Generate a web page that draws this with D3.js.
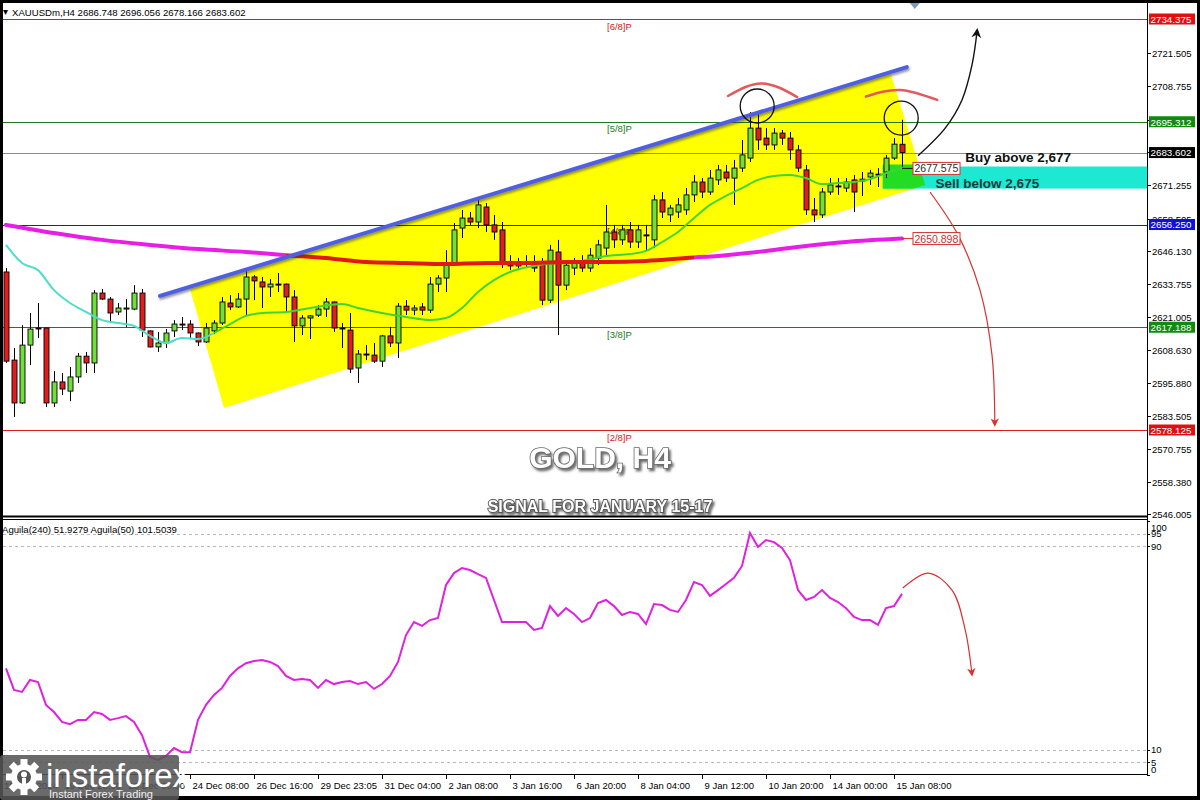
<!DOCTYPE html>
<html><head><meta charset="utf-8">
<script src="https://cdn.jsdelivr.net/npm/d3@7"></script>
<style>body{margin:0;background:#000;} svg{display:block}</style>
</head><body>
<svg id="c" width="1200" height="800"></svg>
<script>
// ---------- DATA ----------
const symbolHeader = "XAUUSDm,H4  2686.748 2696.056 2678.166 2683.602";
const indicatorHeader = "Aguila(240) 51.9279  Aguila(50) 101.5039";

const open = [2638.2,2604.7,2588.4,2610.4,2616.9,2616.9,2588.4,2596.4,2592.9,2598.3,
2606.2,2603.6,2630.2,2627.9,2623.0,2624.1,2624.1,2630.2,2615.8,2609.7,
2611.2,2615.8,2618.4,2618.4,2615.0,2611.6,2615.8,2618.8,2626.4,2624.9,
2627.9,2636.3,2634.4,2632.5,2633.6,2633.6,2628.7,2617.7,2620.7,2621.8,
2624.1,2626.8,2616.9,2616.1,2601.7,2607.0,2606.6,2604.3,2613.9,2611.2,
2625.2,2623.7,2624.9,2623.7,2633.6,2635.9,2641.6,2654.9,2658.7,2657.2,
2662.9,2656.1,2654.2,2642.0,2640.5,2642.0,2642.0,2640.8,2627.5,2645.8,
2633.2,2639.7,2642.0,2639.7,2643.5,2647.3,2653.4,2650.4,2654.2,2649.6,
2652.3,2650.4,2665.6,2659.9,2661.0,2661.8,2667.5,2672.4,2668.6,2673.2,
2676.2,2673.9,2677.7,2681.5,2692.9,2689.1,2686.5,2691.0,2689.1,2684.6,
2677.0,2661.8,2659.9,2668.6,2670.9,2670.1,2673.2,2672.8,2674.3,2675.4,
2676.2,2681.5,2686.748];
const high = [2639.7,2609.3,2618.0,2622.6,2626.4,2617.0,2600.5,2599.8,2602.1,2607.4,
2607.8,2631.3,2631.7,2628.7,2626.4,2627.9,2633.2,2631.7,2616.0,2615.4,
2616.5,2619.9,2621.1,2619.9,2615.2,2618.8,2619.9,2628.7,2629.4,2630.2,
2638.9,2637.0,2636.3,2635.5,2637.8,2633.8,2631.3,2621.8,2621.8,2625.6,
2628.3,2627.0,2618.8,2622.6,2608.5,2610.4,2611.2,2614.2,2617.3,2626.4,
2627.5,2625.6,2626.4,2636.3,2637.0,2646.5,2656.8,2661.8,2661.0,2665.6,
2664.4,2659.9,2657.2,2644.6,2643.5,2644.6,2644.6,2643.5,2648.5,2650.4,
2642.0,2643.5,2644.6,2647.3,2650.4,2663.7,2656.1,2656.1,2657.2,2656.1,
2656.1,2667.5,2668.6,2663.7,2666.3,2670.1,2675.1,2673.9,2677.0,2678.9,
2678.9,2680.8,2688.4,2699.0,2699.0,2692.9,2692.9,2692.2,2691.4,2686.5,
2678.9,2666.3,2670.1,2673.9,2673.9,2673.9,2675.1,2676.2,2677.0,2677.7,
2682.7,2689.1,2696.056];
const low = [2603.6,2583.1,2588.0,2602.8,2613.1,2586.9,2586.9,2591.4,2589.1,2596.0,
2599.8,2599.8,2627.5,2618.8,2621.8,2617.3,2623.7,2613.5,2609.5,2607.8,
2609.3,2613.5,2616.1,2612.7,2610.1,2611.2,2614.6,2618.0,2623.7,2624.5,
2621.8,2627.5,2624.5,2628.7,2630.6,2623.0,2611.6,2614.2,2612.7,2621.1,
2621.1,2615.4,2609.3,2599.8,2596.0,2604.7,2603.6,2602.1,2609.7,2605.5,
2621.8,2621.8,2621.8,2622.6,2630.6,2630.6,2641.6,2651.1,2656.1,2654.9,
2653.4,2650.4,2639.7,2638.9,2638.9,2639.7,2638.2,2625.6,2626.4,2614.2,
2631.3,2637.0,2638.2,2638.2,2640.8,2644.6,2647.3,2648.5,2647.3,2647.3,
2646.5,2647.3,2658.7,2657.2,2658.7,2659.9,2664.8,2666.3,2667.5,2671.3,
2672.4,2663.7,2676.2,2680.0,2684.6,2684.6,2684.6,2686.5,2680.8,2676.2,
2659.9,2657.2,2658.7,2667.5,2667.5,2668.6,2661.0,2667.1,2671.3,2670.5,
2673.9,2680.8,2678.166];
const close = [2604.3,2588.4,2610.4,2616.5,2616.7,2588.4,2596.4,2593.7,2598.3,2606.2,
2603.6,2630.2,2627.9,2622.6,2624.5,2624.5,2630.2,2616.1,2609.7,2611.2,
2615.0,2618.4,2618.2,2615.0,2611.6,2616.9,2618.8,2626.8,2624.9,2627.9,
2636.3,2634.8,2632.5,2633.6,2633.4,2628.7,2617.7,2620.7,2621.5,2624.1,
2626.8,2616.9,2616.7,2601.3,2607.0,2606.8,2604.3,2613.9,2611.2,2625.2,
2623.7,2624.5,2623.7,2633.6,2635.9,2641.6,2654.2,2658.7,2657.2,2663.7,
2656.1,2653.4,2642.0,2640.5,2642.0,2641.6,2639.7,2627.5,2646.5,2633.2,
2640.8,2642.0,2639.7,2644.6,2648.5,2653.4,2650.4,2654.2,2649.6,2654.2,
2652.1,2665.6,2661.0,2662.5,2663.7,2667.5,2672.4,2668.6,2673.9,2677.0,
2673.9,2677.7,2682.7,2692.9,2688.4,2686.5,2691.0,2689.1,2684.6,2677.7,
2661.8,2659.9,2668.6,2671.3,2670.7,2672.4,2668.6,2673.5,2675.8,2675.2,
2681.5,2686.8,2683.602];

// fast moving average (read at sampled bars)
const maFastBars = [0,2,4,6,8,10,12,14,16,18,20,22,24,26,28,30,32,35,38,42,44,47,50,53,55,57,59,61,63,66,69,72,75,78,80,82,84,86,88,90,92,94,96,98,100,102,104,106,108,110,112];
const maFastVals = [2648.5,2641.6,2638.9,2631.3,2626.4,2623.0,2619.9,2618.8,2617.7,2613.9,2611.2,2613.1,2612.7,2615.0,2618.4,2621.5,2622.6,2623.0,2624.5,2626.0,2624.5,2622.6,2621.1,2619.9,2620.7,2624.5,2630.6,2635.1,2638.2,2640.5,2641.6,2642.4,2644.3,2645.0,2646.2,2649.6,2653.4,2658.7,2663.7,2667.1,2670.1,2673.2,2674.7,2675.1,2673.9,2671.6,2672.0,2672.4,2673.5,2675.8,2677.7];
const maFastTurnBar = 25;
// slow moving average (read at sampled bars)
const maSlowBars = [0,6,12,18,24,30,35,40,45,50,55,60,65,70,75,80,85,90,95,100,105,112];
const maSlowVals = [2656.1,2653.0,2650.4,2648.5,2646.9,2645.8,2644.6,2643.5,2642.0,2641.6,2641.2,2641.6,2641.6,2642.0,2642.0,2642.4,2643.5,2644.6,2646.2,2648.1,2649.6,2650.898];
const maSlowRedFrom = 35, maSlowRedTo = 86;

// oscillator
const aguila = [42,33.5,32.7,37.4,36.6,27.6,24.8,20.9,20,21.7,
21.7,24.8,24,21.7,22.4,23.2,20.9,15.7,7.1,5.9,
7.5,10.6,9,9,21.7,27.6,31.5,34.3,39,42,
44,44.9,45.3,44.5,42.9,39,37.4,37.8,37.4,34.3,
37.4,35.8,36.6,37,35.8,36.6,33.9,35.8,39,44.5,
55.1,60.2,58.7,61,61.8,74.8,79.5,81.5,80.7,79.1,
77.6,68.9,60.2,60.2,60.2,60.2,57.1,57.9,66.5,62.6,
65.7,63.4,60.2,61.8,67.7,68.9,66.5,63,64.2,63.4,
59.4,67.3,66.9,65,64.2,68.9,76,74.8,70.5,72.8,
75.2,77.6,82.3,95.3,89.8,92.5,91.7,89.4,84.6,72.8,
68.9,70.1,72.8,69.7,68.1,65.7,62.2,61,61,59.1,
65.7,66.5,71.3];
const oscLevels = [95,90,10,5];
const oscTickLabels = [100,95,90,10,5,0];

// price axis ticks
const priceTicks = [2721.505,2708.755,2696.005,2683.630,2671.255,2658.505,2646.130,2633.755,2621.005,2608.630,2595.880,2583.505,2570.755,2558.380,2546.005];
// Murrey levels
const levelPrices = [2734.375,2695.312,2656.250,2617.188,2578.125];
const levelNames  = ["[6/8]P","[5/8]P","[4/8]P","[3/8]P","[2/8]P"];
const levelColors = ["#dd1c1c","#1c7a1c","#1a1ac0","#1c7a1c","#dd1c1c"];
const levelTextColors = ["#d42020","#1c7a1c","#333333","#1c7a1c","#d42020"];
const lastPrice = 2683.602;

// time axis
const timeTickBars = [7,15,23,31,39,47,55,63,71,79,87,95,103,111];
const timeTickLabels = ["19 Dec 20:00","23 Dec 00:00","24 Dec 08:00","26 Dec 16:00","29 Dec 23:05","31 Dec 04:00","2 Jan 08:00","3 Jan 16:00","6 Jan 20:00","8 Jan 04:00","9 Jan 12:00","10 Jan 20:00","14 Jan 00:00","15 Jan 08:00"];
const firstTimeLabel = "18 Dec 2024";

// annotations (bar, price)
const channelBars   = [23, 110.6, 114.9, 27.25];
const channelPrices = [2631.7, 2713.5, 2671.3, 2586.5];
const trendBars = [19.25, 112.6];
const trendPrices = [2629.1, 2716.1];
const circleBars = [93.9, 111.9];
const circlePrices = [2701.3, 2696.7];
const arc1Bars = [90.25, 94.5, 98.9], arc1Prices = [2705.1, 2709.9, 2704.7];
const arc2Bars = [107.5, 111.75, 116.4], arc2Prices = [2704.9, 2707.4, 2703.6];
const upArrowBars = [114, 117.4, 119.5, 120.75, 121.4];
const upArrowPrices = [2682.4, 2692.9, 2703.6, 2716.9, 2730.2];
const downArrowBars = [115.5, 119, 121.75, 123.25, 123.6];
const downArrowPrices = [2668.6, 2652.3, 2631.3, 2606.6, 2580.0];
const oscArrowBars = [112.1, 115.25, 118.25, 119.9, 120.75];
const oscArrowVals = [73.6, 79.5, 72.8, 57.1, 39.4];
const zoneBarStart = 109.6;
const zoneTop = 2678.3, zoneBottom = 2669.9;
const buyText = "Buy above 2,677", sellText = "Sell below 2,675";
const buyPrice = 2680.0, sellPrice = 2671.0, textBar = 119.9, sellBar = 116.2;
const markerPrice1 = 2677.575, markerPrice2 = 2650.898;

// ---------- LAYOUT ----------
const W = 1200, H = 800;
const L = 3, R = 1147, mainT = 3, mainB = 516, indT = 519, indB = 774;
const svg = d3.select("#c");
const font = "'Liberation Sans', Arial, sans-serif";

const x = d3.scaleLinear().domain([0, 112]).range([6, 902]);
const y = d3.scaleLinear().domain([2578.125, 2734.375]).range([430, 19]);
const yi = d3.scaleLinear().domain([0, 100]).range([775, 521]);

const defs = svg.append("defs");
defs.append("clipPath").attr("id","mainClip").append("rect").attr("x",L).attr("y",mainT).attr("width",R-L).attr("height",mainB-mainT);
defs.append("clipPath").attr("id","indClip").append("rect").attr("x",L).attr("y",indT).attr("width",R-L).attr("height",indB-indT);
const chanPts = channelBars.map((b,i)=>[x(b), y(channelPrices[i])]);
defs.append("clipPath").attr("id","chanClip").append("polygon").attr("points", chanPts.map(p=>p.join(",")).join(" "));
function marker(id, color){
  defs.append("marker").attr("id",id).attr("viewBox","0 0 10 10").attr("refX",8).attr("refY",5)
    .attr("markerWidth",7).attr("markerHeight",7).attr("orient","auto")
    .append("path").attr("d","M0,0 L10,5 L0,10 L3,5 z").attr("fill",color);
}
marker("arrBlack","#111"); marker("arrRed","#d83030");
const f1 = defs.append("filter").attr("id","txtShadow").attr("x","-10%").attr("y","-30%").attr("width","130%").attr("height","170%");
f1.append("feDropShadow").attr("dx",2).attr("dy",2.5).attr("stdDeviation",1.2).attr("flood-color","#555").attr("flood-opacity",0.85);
const f2 = defs.append("filter").attr("id","lineShadow");
f2.append("feDropShadow").attr("dx",1).attr("dy",2).attr("stdDeviation",1).attr("flood-color","#333").attr("flood-opacity",0.5);

// background / frame
svg.append("rect").attr("width",W).attr("height",H).attr("fill","#000");
svg.append("rect").attr("x",L).attr("y",3).attr("width",1197-L).attr("height",793).attr("fill","#fff");

// ---------- MAIN PANEL ----------
const main = svg.append("g").attr("clip-path","url(#mainClip)");

// yellow channel
main.append("polygon").attr("points", chanPts.map(p=>p.join(",")).join(" ")).attr("fill","#ffff00");

// levels
levelPrices.forEach((p,i)=>{
  main.append("line").attr("x1",L).attr("x2",R).attr("y1",Math.round(y(p))+0.5).attr("y2",Math.round(y(p))+0.5)
    .attr("stroke",levelColors[i]).attr("stroke-width",1);
  main.append("text").attr("x",607).attr("y",y(p)+10.5).text(levelNames[i])
    .attr("font-family",font).attr("font-size",9.5).attr("fill",levelTextColors[i]);
});
main.append("line").attr("x1",L).attr("x2",R).attr("y1",Math.round(y(lastPrice))+0.5).attr("y2",Math.round(y(lastPrice))+0.5)
  .attr("stroke","#8a8a8a").attr("stroke-width",1);

// cyan/green zone
main.append("rect").attr("x",x(zoneBarStart)).attr("y",y(zoneTop)).attr("width",R-x(zoneBarStart)).attr("height",y(zoneBottom)-y(zoneTop)).attr("fill","#1de8d2");
main.append("rect").attr("clip-path","url(#chanClip)").attr("x",x(zoneBarStart)).attr("y",y(zoneTop)-2).attr("width",R-x(zoneBarStart)).attr("height",y(zoneBottom)-y(zoneTop)+2).attr("fill","#22dd22");

// candles
const idx = d3.range(open.length);
const cg = main.append("g");
idx.forEach(i=>{
  const cx = Math.round(x(i)) + 0.5;
  cg.append("line").attr("x1",cx).attr("x2",cx).attr("y1",y(high[i])).attr("y2",y(low[i])).attr("stroke","#000").attr("stroke-width",1);
  const top = y(Math.max(open[i],close[i])), bot = y(Math.min(open[i],close[i]));
  const up = close[i] >= open[i];
  cg.append("rect").attr("x",cx-2.5).attr("y",top).attr("width",5).attr("height",Math.max(1,bot-top))
    .attr("fill", up ? "#6fe03a" : "#e01e1e").attr("stroke","#000").attr("stroke-width",0.9);
});

// moving averages
const lineGen = d3.line().curve(d3.curveMonotoneX);
const fastPts = maFastBars.map((b,i)=>[x(b), y(maFastVals[i])]);
const turnIdx = maFastBars.findIndex(b=>b>=maFastTurnBar);
main.append("path").attr("d", lineGen(fastPts.slice(0, turnIdx+1))).attr("fill","none").attr("stroke","#4fdcc8").attr("stroke-width",2);
main.append("path").attr("d", lineGen(fastPts.slice(turnIdx))).attr("fill","none").attr("stroke","#3fd633").attr("stroke-width",2);
const slowPts = maSlowBars.map((b,i)=>[x(b), y(maSlowVals[i])]);
const curveFull = lineGen(slowPts);
function segClip(id, x0, x1){
  defs.append("clipPath").attr("id",id).append("rect").attr("x",x0).attr("y",0).attr("width",x1-x0).attr("height",H);
}
segClip("segA", 0, x(maSlowRedFrom)); segClip("segB", x(maSlowRedFrom), x(maSlowRedTo)); segClip("segC", x(maSlowRedTo), W);
[["segA","#e61ee6"],["segB","#e01818"],["segC","#e61ee6"]].forEach(([id,col])=>{
  main.append("g").attr("clip-path",`url(#${id})`).append("path").attr("d",curveFull).attr("fill","none").attr("stroke",col).attr("stroke-width",4).attr("stroke-linecap","round");
});

// trend line
main.append("line").attr("x1",x(trendBars[0])).attr("y1",y(trendPrices[0])).attr("x2",x(trendBars[1])).attr("y2",y(trendPrices[1]))
  .attr("stroke","#4f5fe0").attr("stroke-width",4).attr("stroke-linecap","round").attr("filter","url(#lineShadow)");

// circles & arcs
circleBars.forEach((b,i)=>{
  main.append("circle").attr("cx",x(b)).attr("cy",y(circlePrices[i])).attr("r",17).attr("fill","none").attr("stroke","#111").attr("stroke-width",1.3);
});
const arcLine = d3.line().curve(d3.curveNatural);
[[arc1Bars,arc1Prices],[arc2Bars,arc2Prices]].forEach(([bs,ps])=>{
  main.append("path").attr("d",arcLine(bs.map((b,i)=>[x(b),y(ps[i])]))).attr("fill","none").attr("stroke","#e45a5a").attr("stroke-width",2.5).attr("stroke-linecap","round");
});
// arrows
const arrLine = d3.line().curve(d3.curveCatmullRom);
main.append("path").attr("d",arrLine(upArrowBars.map((b,i)=>[x(b),y(upArrowPrices[i])]))).attr("fill","none").attr("stroke","#111").attr("stroke-width",1.4).attr("marker-end","url(#arrBlack)");
main.append("path").attr("d",arrLine(downArrowBars.map((b,i)=>[x(b),y(downArrowPrices[i])]))).attr("fill","none").attr("stroke","#d83030").attr("stroke-width",1.2).attr("marker-end","url(#arrRed)");

// price marker labels
function priceMarker(p, textColor){
  const yy = y(p);
  main.append("line").attr("x1",x(112)).attr("x2",913).attr("y1",yy).attr("y2",yy).attr("stroke", textColor==="#c83030" ? "#d03030" : "#111").attr("stroke-width",1);
  main.append("rect").attr("x",913).attr("y",yy-6).attr("width",47).attr("height",12).attr("fill","#fff").attr("stroke","#d03030").attr("stroke-width",1);
  main.append("text").attr("x",914.5).attr("y",yy+4).text(p.toFixed(3)).attr("font-family",font).attr("font-size",10.5).attr("fill",textColor);
}
priceMarker(markerPrice1, "#1f2f2f");
priceMarker(markerPrice2, "#c83030");

// buy / sell texts
main.append("text").attr("x",x(textBar)).attr("y",y(buyPrice)).text(buyText).attr("font-family",font).attr("font-weight","bold").attr("font-size",13.5).attr("fill","#111");
main.append("text").attr("x",x(sellBar)).attr("y",y(sellPrice)+2).text(sellText).attr("font-family",font).attr("font-weight","bold").attr("font-size",13.5).attr("fill","#163c3a");

// titles
main.append("text").attr("x",600).attr("y",468).attr("text-anchor","middle").text("GOLD, H4")
  .attr("font-family",font).attr("font-weight","bold").attr("font-size",30).attr("fill","#fff")
  .attr("stroke","#6a6a6a").attr("stroke-width",1.6).attr("paint-order","stroke").attr("filter","url(#txtShadow)");
main.append("text").attr("x",600).attr("y",512).attr("text-anchor","middle").text("SIGNAL FOR JANUARY 15-17")
  .attr("font-family",font).attr("font-weight","bold").attr("font-size",16).attr("fill","#fff")
  .attr("stroke","#555").attr("stroke-width",1.8).attr("paint-order","stroke").attr("filter","url(#txtShadow)");

// header
svg.append("text").attr("x",3).attr("y",15).text("\u25BE").attr("font-family",font).attr("font-size",10).attr("fill","#000");
svg.append("text").attr("x",12).attr("y",16).text(symbolHeader).attr("font-family",font).attr("font-size",9.6).attr("fill","#000");
svg.append("path").attr("d",`M${x(113.6)-5},3 L${x(113.6)+5},3 L${x(113.6)},9 z`).attr("fill","#7f98c0");

// ---------- PRICE AXIS ----------
const ax = svg.append("g");
ax.append("line").attr("x1",R+0.5).attr("x2",R+0.5).attr("y1",3).attr("y2",indB).attr("stroke","#000");
priceTicks.forEach(p=>{
  const yy = Math.round(y(p))+0.5;
  ax.append("line").attr("x1",R).attr("x2",R+4).attr("y1",yy).attr("y2",yy).attr("stroke","#000");
  ax.append("text").attr("x",R+5).attr("y",yy+3.5).text(p.toFixed(3)).attr("font-family",font).attr("font-size",9.5).attr("fill","#000");
});
const boxColors = ["#e01010","#128a12","#1010d8","#128a12","#e01010"];
levelPrices.forEach((p,i)=>{
  const yy = y(p);
  ax.append("rect").attr("x",R+2).attr("y",yy-5.5).attr("width",46).attr("height",11).attr("fill",boxColors[i]);
  ax.append("text").attr("x",R+3.5).attr("y",yy+3.8).text(p.toFixed(3)).attr("font-family",font).attr("font-size",9.8).attr("fill","#fff");
});
ax.append("rect").attr("x",R+2).attr("y",y(lastPrice)-5.5).attr("width",46).attr("height",11).attr("fill","#000");
ax.append("text").attr("x",R+3.5).attr("y",y(lastPrice)+3.8).text(lastPrice.toFixed(3)).attr("font-family",font).attr("font-size",9.8).attr("fill","#fff");

// panel separators
svg.append("line").attr("x1",L).attr("x2",R).attr("y1",mainB+0.5).attr("y2",mainB+0.5).attr("stroke","#000").attr("stroke-width",2);
svg.append("line").attr("x1",L).attr("x2",R).attr("y1",indT+0.5).attr("y2",indT+0.5).attr("stroke","#000").attr("stroke-width",1);

// ---------- INDICATOR PANEL ----------
const ind = svg.append("g").attr("clip-path","url(#indClip)");
oscLevels.forEach(v=>{
  ind.append("line").attr("x1",L).attr("x2",R).attr("y1",Math.round(yi(v))+0.5).attr("y2",Math.round(yi(v))+0.5)
    .attr("stroke","#b8b8b8").attr("stroke-dasharray","3,3");
});
ind.append("path").attr("d", d3.line().x((d,i)=>x(i)).y(d=>yi(d))(aguila)).attr("fill","none").attr("stroke","#e020e0").attr("stroke-width",2);
ind.append("path").attr("d",arrLine(oscArrowBars.map((b,i)=>[x(b),yi(oscArrowVals[i])]))).attr("fill","none").attr("stroke","#d83030").attr("stroke-width",1.2).attr("marker-end","url(#arrRed)");
svg.append("text").attr("x",2).attr("y",533).text(indicatorHeader).attr("font-family",font).attr("font-size",9.6).attr("fill","#000");
oscTickLabels.forEach(v=>{
  const yy = Math.min(Math.max(yi(v), 527), 769);
  ax.append("line").attr("x1",R).attr("x2",R+3).attr("y1",Math.round(yi(v))+0.5).attr("y2",Math.round(yi(v))+0.5).attr("stroke","#000");
  ax.append("text").attr("x",R+4).attr("y",yy+3.5).text(v).attr("font-family",font).attr("font-size",9.5).attr("fill","#000");
});

// ---------- TIME AXIS ----------
svg.append("line").attr("x1",L).attr("x2",R+1).attr("y1",indB+0.5).attr("y2",indB+0.5).attr("stroke","#000");
const tg = svg.append("g");
tg.append("text").attr("x",L+1).attr("y",789).text(firstTimeLabel).attr("font-family",font).attr("font-size",9.5).attr("fill","#000");
timeTickBars.forEach((b,i)=>{
  const xx = Math.round(x(b))+0.5;
  tg.append("line").attr("x1",xx).attr("x2",xx).attr("y1",indB).attr("y2",indB+5).attr("stroke","#000");
  tg.append("text").attr("x",xx+2).attr("y",789).text(timeTickLabels[i]).attr("font-family",font).attr("font-size",9.5).attr("fill","#000");
});

// ---------- LOGO ----------
const lg = svg.append("g");
lg.append("rect").attr("x",0).attr("y",755).attr("width",179).attr("height",45).attr("rx",3).attr("fill","#555").attr("opacity",0.88);
const gear = lg.append("g").attr("transform","translate(24,777)");
d3.range(8).forEach(k=>{
  gear.append("rect").attr("x",-3.5).attr("y",-18).attr("width",7).attr("height",8).attr("fill","#fff").attr("transform",`rotate(${k*45})`);
});
gear.append("circle").attr("r",13).attr("fill","#fff");
gear.append("circle").attr("r",7).attr("fill","#555");
gear.append("circle").attr("cx",0).attr("cy",-2.5).attr("r",3).attr("fill","#fff");
gear.append("rect").attr("x",-2).attr("y",1).attr("width",4).attr("height",10).attr("fill","#fff");
lg.append("text").attr("x",46).attr("y",787).text("instaforex").attr("font-family",font).attr("font-size",33).attr("fill","#fff");
lg.append("text").attr("x",49).attr("y",798).text("Instant Forex Trading").attr("font-family",font).attr("font-size",11).attr("fill","#f0f0f0");
</script>
</body></html>
